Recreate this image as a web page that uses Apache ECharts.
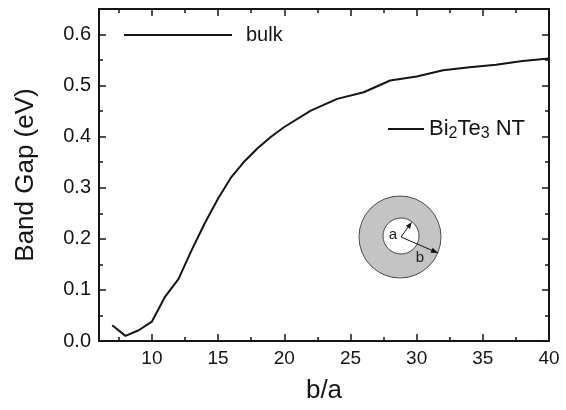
<!DOCTYPE html>
<html>
<head>
<meta charset="utf-8">
<script src="https://cdn.jsdelivr.net/npm/echarts@6/dist/echarts.min.js"></script>
<style>
html,body{margin:0;padding:0;background:#fff;}
#chart{width:566px;height:410px;}
</style>
</head>
<body>
<div id="chart"></div>
<script>
// ---- data ----
const ratioValues = [7, 8, 9, 10, 11, 12, 13, 14, 15, 16, 17, 18, 19, 20, 22, 24, 26, 28, 30, 32, 34, 36, 38, 40];
const gapValues   = [0.031, 0.010, 0.021, 0.038, 0.087, 0.121, 0.178, 0.231, 0.279, 0.321, 0.352, 0.378, 0.400, 0.419, 0.451, 0.474, 0.487, 0.510, 0.518, 0.530, 0.536, 0.541, 0.548, 0.553];
const xMajorTicks = [10, 15, 20, 25, 30, 35, 40];
const xMinorTicks = [7.5, 12.5, 17.5, 22.5, 27.5, 32.5, 37.5];
const yMajorTicks = [0, 0.1, 0.2, 0.3, 0.4, 0.5, 0.6];
const yMinorTicks = [0.05, 0.15, 0.25, 0.35, 0.45, 0.55];
const seriesNames = ['bulk', 'Bi2Te3 NT'];

const FONT = "'Liberation Sans', Arial, sans-serif";
const INK = '#151515';

const chart = echarts.init(document.getElementById('chart'), null, {renderer: 'canvas'});

function xAx(pos, ticks, len, showLine, showLabel) {
  return {
    type: 'value', min: 6, max: 40, position: pos,
    axisLine: {show: showLine, onZero: false, lineStyle: {color: INK, width: 2}},
    axisTick: {show: true, inside: true, length: len, customValues: ticks, lineStyle: {color: INK, width: 1.5}},
    axisLabel: showLabel ? {show: true, customValues: ticks, fontSize: 19, fontFamily: FONT, color: INK, margin: 8} : {show: false},
    splitLine: {show: false}
  };
}
function yAx(pos, ticks, len, showLine, showLabel) {
  return {
    type: 'value', min: 0, max: 0.65, position: pos,
    axisLine: {show: showLine, onZero: false, lineStyle: {color: INK, width: 2}},
    axisTick: {show: true, inside: true, length: len, customValues: ticks, lineStyle: {color: INK, width: 1.5}},
    axisLabel: showLabel ? {show: true, customValues: ticks, fontSize: 20, fontFamily: FONT, color: INK, margin: 8,
      formatter: v => v.toFixed(1)} : {show: false},
    splitLine: {show: false}
  };
}

const xAxes = [
  Object.assign(xAx('bottom', xMajorTicks, 7, true, true), {
    name: 'b/a', nameLocation: 'middle', nameGap: 37,
    nameTextStyle: {fontSize: 26, fontFamily: FONT, color: INK}
  }),
  xAx('bottom', xMinorTicks, 4, false, false),
  xAx('top', xMajorTicks, 7, true, false),
  xAx('top', xMinorTicks, 4, false, false)
];
const yAxes = [
  Object.assign(yAx('left', yMajorTicks, 7, true, true), {
    name: 'Band Gap (eV)', nameLocation: 'middle', nameGap: 60, nameRotate: 90,
    nameTextStyle: {fontSize: 26, fontFamily: FONT, color: INK}
  }),
  yAx('left', yMinorTicks, 4, false, false),
  yAx('right', yMajorTicks, 7, true, false),
  yAx('right', yMinorTicks, 4, false, false)
];

function arrowHead(x0, y0, x1, y1, len, half) {
  const dx = x1 - x0, dy = y1 - y0, L = Math.hypot(dx, dy);
  const ux = dx / L, uy = dy / L;
  const bx = x1 - ux * len, by = y1 - uy * len;
  return [[x1, y1], [bx - uy * half, by + ux * half], [bx + uy * half, by - ux * half]];
}

const inset = [
  {type: 'circle', shape: {cx: 400, cy: 237, r: 41}, style: {fill: '#c4c4c4', stroke: '#4a4a4a', lineWidth: 1}, z: 10},
  {type: 'circle', shape: {cx: 401, cy: 236, r: 18}, style: {fill: '#ffffff', stroke: '#4a4a4a', lineWidth: 1}, z: 11},
  {type: 'line', shape: {x1: 401, y1: 237, x2: 411.5, y2: 222.5}, style: {stroke: '#111', lineWidth: 1}, z: 12},
  {type: 'polygon', shape: {points: arrowHead(401, 237, 411.5, 222.5, 6, 2.6)}, style: {fill: '#111'}, z: 12},
  {type: 'line', shape: {x1: 401, y1: 237, x2: 438, y2: 253}, style: {stroke: '#111', lineWidth: 1}, z: 12},
  {type: 'polygon', shape: {points: arrowHead(401, 237, 438, 253, 7, 2.8)}, style: {fill: '#111'}, z: 12},
  {type: 'text', style: {x: 393, y: 235, text: 'a', fontSize: 15, fontFamily: FONT, fill: '#222', align: 'center', verticalAlign: 'middle'}, z: 12},
  {type: 'text', style: {x: 420, y: 258, text: 'b', fontSize: 15, fontFamily: FONT, fill: '#222', align: 'center', verticalAlign: 'middle'}, z: 12}
];

chart.setOption({
  animation: false,
  backgroundColor: '#ffffff',
  grid: {left: 99, right: 17, top: 9, bottom: 69},
  xAxis: xAxes,
  yAxis: yAxes,
  legend: [
    {data: [seriesNames[0]], left: 124, top: 25, icon: 'rect', itemWidth: 108, itemHeight: 2, padding: 0,
     itemStyle: {color: INK},
     textStyle: {fontSize: 20, fontFamily: FONT, color: INK, padding: [0, 0, 0, 9]}},
    {data: [seriesNames[1]], left: 388, top: 118, icon: 'rect', itemWidth: 36, itemHeight: 2, padding: 0,
     itemStyle: {color: INK},
     formatter: () => 'Bi{s|2}Te{s|3} NT',
     textStyle: {fontSize: 22, fontFamily: FONT, color: INK,
       rich: {s: {fontSize: 16, fontFamily: FONT, color: INK, padding: [10, 0, 0, 0]}}}}
  ],
  graphic: inset,
  series: [
    {name: seriesNames[0], type: 'line', data: [], symbol: 'none', lineStyle: {color: INK, width: 2}, itemStyle: {color: INK}},
    {name: seriesNames[1], type: 'line', xAxisIndex: 0, yAxisIndex: 0, symbol: 'none', smooth: false,
     lineStyle: {color: INK, width: 2}, itemStyle: {color: INK},
     data: ratioValues.map((x, i) => [x, gapValues[i]])}
  ]
});
</script>
</body>
</html>
